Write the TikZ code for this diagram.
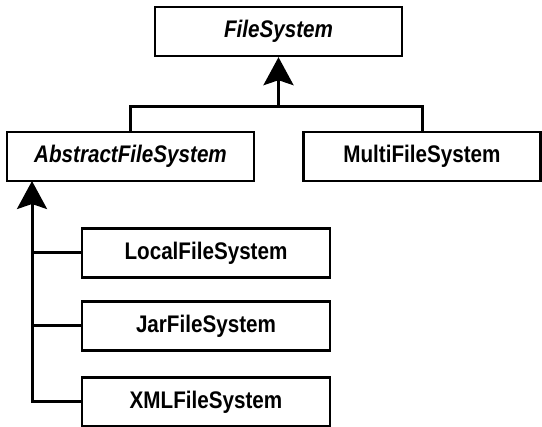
\documentclass[tikz,border=0pt]{standalone}
\usepackage{fontspec}
\setmainfont{Liberation Sans}[FakeStretch=0.86]
\usepackage{tikz}
\usetikzlibrary{arrows.meta}

\tikzset{
  cls/.style={draw, rectangle, line width=2.4pt, inner sep=0pt, minimum height=49pt,
    font=\fontsize{24}{28}\selectfont\bfseries},
  wire/.style={line width=3pt},
  gen/.style={wire, -{Stealth[length=28pt, width=30pt, inset=5pt]}}
}

\begin{document}
\begin{tikzpicture}[x=1pt, y=-1pt]
  \useasboundingbox (0,0) rectangle (542,427);
  \node[cls, minimum width=247pt] (fs) at (278.5,31.5) {\itshape FileSystem};
  \node[cls, minimum width=247pt] (abs) at (130.5,156.5) {\itshape AbstractFileSystem};
  \node[cls, minimum width=237pt] (multi) at (422,156.5) {MultiFileSystem};
  \node[cls, minimum width=248pt] (local) at (206,253) {LocalFileSystem};
  \node[cls, minimum width=248pt] (jar) at (206,326) {JarFileSystem};
  \node[cls, minimum width=248pt] (xml) at (206,402) {XMLFileSystem};
  % generalisation to FileSystem
  \coordinate (top) at (fs.south |- 0,107);
  \draw[wire] (abs.north) |- (top) -| (multi.north);
  \draw[gen] (top) -- (fs.south);
  % generalisation to AbstractFileSystem
  \coordinate (trunk) at (32,181);
  \draw[gen] (xml.west) -| (trunk);
  \draw[wire] (local.west) -- (local.west -| trunk);
  \draw[wire] (jar.west) -- (jar.west -| trunk);
\end{tikzpicture}
\end{document}
